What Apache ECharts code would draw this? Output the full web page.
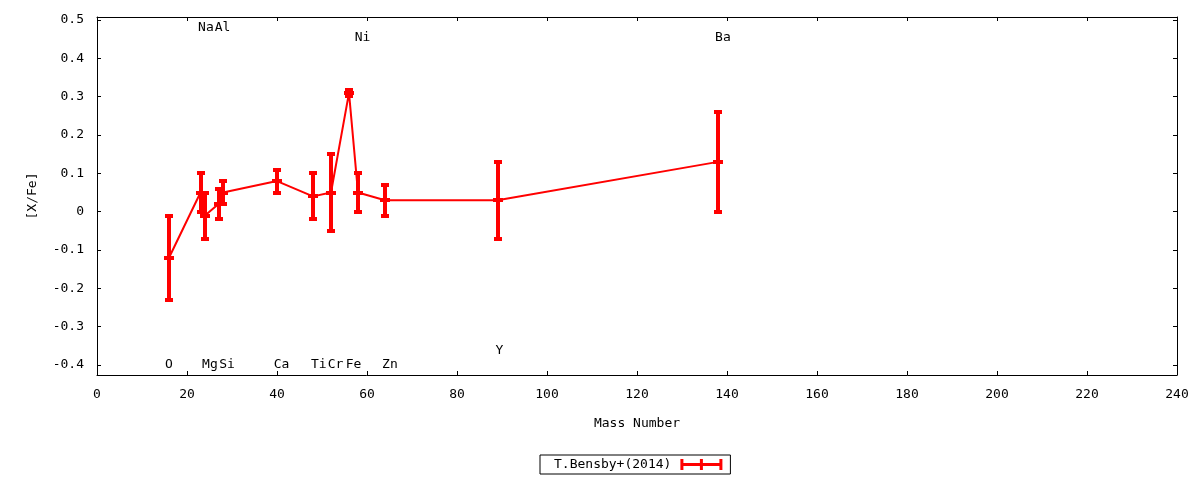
<!DOCTYPE html>
<html lang="en">
<head>
    <meta charset="UTF-8">
    <title>[X/Fe] vs Mass Number</title>
    <script type="text/javascript" src="https://cdn.jsdelivr.net/npm/echarts@6/dist/echarts.min.js"></script>
    <style>
        html, body { margin: 0; padding: 0; background: #fff; }
    </style>
</head>
<body>
<div id="chart" style="width: 1200px;height:480px;"></div>
<script>

    // data
    var massNumber = [16, 23, 24, 27, 28, 40, 48, 52, 56, 58, 64, 89, 138];
    var xFe = [-0.12, 0.05, -0.01, 0.02, 0.05, 0.08, 0.04, 0.05, 0.31, 0.05, 0.03, 0.03, 0.13];
    var xFeErr = [0.11, 0.05, 0.06, 0.04, 0.03, 0.03, 0.06, 0.10, 0.007, 0.05, 0.04, 0.10, 0.13];

    // element labels
    var elemNames = ['O', 'Na', 'Mg', 'Al', 'Si', 'Ca', 'Ti', 'Cr', 'Fe', 'Ni', 'Zn', 'Y', 'Ba'];
    var elemLabelX = [16, 24.2, 25.1, 27.9, 28.9, 41, 49.3, 53, 57, 59, 65.1, 89.4, 139.1];
    var elemLabelY = [-0.4, 0.48, -0.4, 0.48, -0.4, -0.4, -0.4, -0.4, -0.4, 0.455, -0.4, -0.362, 0.455];

    // tick labels
    var yTicks = [-0.4, -0.3, -0.2, -0.1, 0, 0.1, 0.2, 0.3, 0.4, 0.5];
    var yTickLabels = ['-0.4', '-0.3', '-0.2', '-0.1', '0', '0.1', '0.2', '0.3', '0.4', '0.5'];

    var FONT = 'DejaVu Sans Mono';
    var RED = '#ff0000';

    var lineData = massNumber.map(function (m, i) { return [m, xFe[i]]; });
    var errData = massNumber.map(function (m, i) { return [m, xFe[i], xFeErr[i]]; });
    var labelData = elemNames.map(function (n, i) { return [elemLabelX[i], elemLabelY[i], n]; });

    function yLabelFmt(v) {
        for (var i = 0; i < yTicks.length; i++) {
            if (Math.abs(yTicks[i] - v) < 1e-6) return yTickLabels[i];
        }
        return '';
    }

    var tickStyle = {show: true, inside: true, length: 4, lineStyle: {color: '#000', width: 1}};
    var axLine = {show: true, onZero: false, lineStyle: {color: '#000', width: 1}};

    var option = {
        animation: false,
        backgroundColor: '#fff',
        grid: {left: 97, right: 23, top: 17, bottom: 105},
        legend: {
            data: ['T.Bensby+(2014)'],
            left: 540,
            top: 455,
            align: 'right',
            orient: 'horizontal',
            borderColor: '#000',
            borderWidth: 1,
            borderRadius: 0,
            padding: [3, 8, 3, 14],
            itemWidth: 42,
            itemHeight: 11,
            icon: 'path://M0,4H42V7H0Z M0,0H3V11H0Z M19.5,0H22.5V11H19.5Z M39,0H42V11H39Z',
            textStyle: {fontFamily: FONT, fontSize: 13, color: '#000', padding: [0, 4, 0, 0]}
        },
        xAxis: [{
            type: 'value',
            min: 0, max: 240, interval: 20,
            name: 'Mass Number',
            nameLocation: 'middle',
            nameGap: 42,
            nameTextStyle: {fontFamily: FONT, fontSize: 13, color: '#000'},
            axisLine: axLine,
            axisTick: tickStyle,
            axisLabel: {fontFamily: FONT, fontSize: 13, color: '#000', margin: 13},
            splitLine: {show: false}
        }, {
            type: 'value',
            position: 'top',
            min: 0, max: 240, interval: 20,
            axisLine: axLine,
            axisTick: tickStyle,
            axisLabel: {show: false},
            splitLine: {show: false}
        }],
        yAxis: [{
            type: 'value',
            min: -0.426, max: 0.508,
            name: '[X/Fe]',
            nameLocation: 'middle',
            nameGap: 58,
            nameTextStyle: {fontFamily: FONT, fontSize: 13, color: '#000'},
            axisLine: axLine,
            axisTick: {show: true, inside: true, length: 4, lineStyle: {color: '#000'}, customValues: yTicks},
            axisLabel: {fontFamily: FONT, fontSize: 13, color: '#000', margin: 13, customValues: yTicks, formatter: yLabelFmt},
            splitLine: {show: false}
        }, {
            type: 'value',
            position: 'right',
            min: -0.426, max: 0.508,
            axisLine: axLine,
            axisTick: {show: true, inside: true, length: 4, lineStyle: {color: '#000'}, customValues: yTicks},
            axisLabel: {show: false, customValues: yTicks},
            splitLine: {show: false}
        }],
        series: [{
            name: 'T.Bensby+(2014)',
            type: 'line',
            data: lineData,
            symbol: 'none',
            color: RED,
            lineStyle: {color: RED, width: 2},
            z: 2
        }, {
            name: 'T.Bensby+(2014)',
            type: 'custom',
            data: errData,
            color: RED,
            z: 3,
            renderItem: function (params, api) {
                var x = api.value(0), v = api.value(1), e = api.value(2);
                var mid = api.coord([x, v]);
                var hi = api.coord([x, v + e]);
                var lo = api.coord([x, v - e]);
                var cx = Math.round(mid[0]);
                var yh = Math.round(hi[1]), yl = Math.round(lo[1]), ym = Math.round(mid[1]);
                var s = {fill: RED};
                // error bar: stem, two caps and the point mark
                return {
                    type: 'group',
                    children: [
                        {type: 'rect', shape: {x: cx - 2, y: yh - 2, width: 4, height: yl - yh + 4}, style: s},
                        {type: 'rect', shape: {x: cx - 4, y: yh - 2, width: 8, height: 4}, style: s},
                        {type: 'rect', shape: {x: cx - 4, y: yl - 2, width: 8, height: 4}, style: s},
                        {type: 'rect', shape: {x: cx - 5, y: ym - 2, width: 10, height: 4}, style: s}
                    ]
                };
            }
        }, {
            type: 'custom',
            data: labelData,
            z: 4,
            silent: true,
            renderItem: function (params, api) {
                var p = api.coord([api.value(0), api.value(1)]);
                return {
                    type: 'text',
                    x: p[0],
                    y: p[1],
                    style: {
                        text: labelData[params.dataIndex][2],
                        align: 'center',
                        verticalAlign: 'middle',
                        font: '13px "' + FONT + '"',
                        fill: '#000'
                    }
                };
            }
        }]
    };

    var myChart = echarts.init(document.getElementById('chart'));
    myChart.setOption(option);

</script>
</body>
</html>
